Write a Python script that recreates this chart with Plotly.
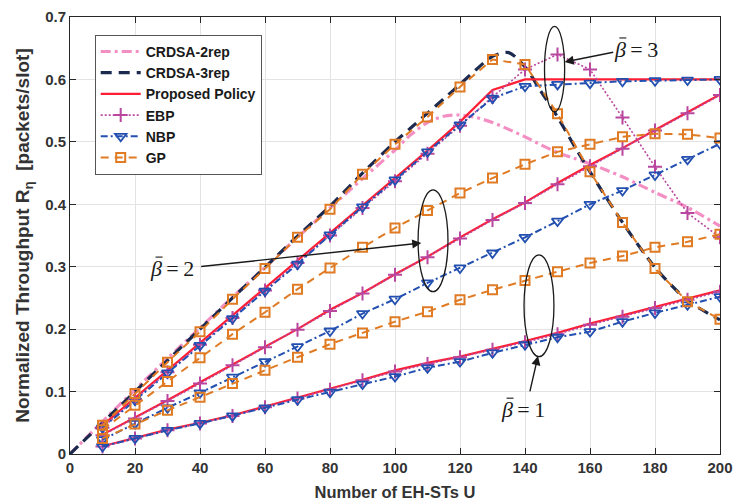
import plotly.graph_objects as go

# Number of EH-STs (marker positions) and the smooth CRDSA sample grid
users = [10, 20, 30, 40, 50, 60, 70, 80, 90, 100, 110, 120, 130, 140, 150, 160, 170, 180, 190, 200]
users_crdsa = [0, 10, 20, 30, 40, 50, 60, 70, 80, 90, 100, 105, 110, 115, 120, 125, 130, 135, 140, 145,
               150, 155, 160, 170, 180, 190, 200]

crdsa_2rep = [0.0, 0.052, 0.103, 0.153, 0.202, 0.251, 0.299, 0.347, 0.394, 0.441, 0.487, 0.512, 0.531, 0.541,
              0.543, 0.539, 0.531, 0.520, 0.508, 0.495, 0.483, 0.474, 0.465, 0.444, 0.419, 0.395, 0.365]
crdsa_3rep = [0.0, 0.050, 0.100, 0.150, 0.200, 0.250, 0.299, 0.349, 0.397, 0.450, 0.500, 0.523, 0.546, 0.569,
              0.592, 0.616, 0.637, 0.643, 0.620, 0.580, 0.540, 0.495, 0.452, 0.371, 0.299, 0.246, 0.215]

# Throughput per policy for beta = 1, 2, 3
proposed = {
    1: [0.0125, 0.026, 0.039, 0.050, 0.062, 0.076, 0.090, 0.104, 0.119, 0.134, 0.146, 0.156, 0.168, 0.181,
        0.194, 0.209, 0.222, 0.236, 0.249, 0.262],
    2: [0.031, 0.058, 0.086, 0.115, 0.143, 0.172, 0.200, 0.231, 0.258, 0.288, 0.316, 0.347, 0.376, 0.403,
        0.434, 0.463, 0.490, 0.519, 0.547, 0.576],
    3: [0.046, 0.090, 0.134, 0.178, 0.221, 0.265, 0.309, 0.354, 0.398, 0.441, 0.486, 0.532, 0.583, 0.600,
        0.600, 0.600, 0.600, 0.600, 0.600, 0.600],
}
ebp = {
    1: [0.012, 0.025, 0.038, 0.049, 0.061, 0.075, 0.089, 0.103, 0.118, 0.132, 0.144, 0.155, 0.167, 0.179,
        0.192, 0.207, 0.220, 0.234, 0.247, 0.260],
    2: [0.030, 0.057, 0.085, 0.113, 0.142, 0.171, 0.199, 0.229, 0.257, 0.287, 0.315, 0.345, 0.375, 0.402,
        0.432, 0.461, 0.489, 0.518, 0.546, 0.575],
    3: [0.042, 0.088, 0.131, 0.175, 0.218, 0.262, 0.306, 0.350, 0.394, 0.437, 0.481, 0.526, 0.572, 0.616,
        0.640, 0.616, 0.539, 0.460, 0.386, 0.347],
}
nbp = {
    1: [0.012, 0.025, 0.038, 0.049, 0.061, 0.074, 0.087, 0.099, 0.112, 0.124, 0.138, 0.148, 0.162, 0.175,
        0.187, 0.196, 0.212, 0.226, 0.239, 0.252],
    2: [0.023, 0.049, 0.074, 0.098, 0.123, 0.148, 0.172, 0.197, 0.225, 0.248, 0.274, 0.298, 0.322, 0.347,
        0.373, 0.400, 0.422, 0.447, 0.472, 0.497],
    3: [0.042, 0.086, 0.130, 0.174, 0.217, 0.261, 0.304, 0.351, 0.396, 0.439, 0.484, 0.527, 0.570, 0.589,
        0.592, 0.594, 0.597, 0.598, 0.599, 0.600],
}
gp = {
    1: [0.025, 0.048, 0.070, 0.091, 0.113, 0.134, 0.155, 0.176, 0.194, 0.212, 0.228, 0.247, 0.263, 0.278,
        0.292, 0.306, 0.317, 0.331, 0.340, 0.352],
    2: [0.039, 0.078, 0.116, 0.154, 0.192, 0.227, 0.264, 0.298, 0.331, 0.362, 0.390, 0.418, 0.442, 0.464,
        0.484, 0.496, 0.508, 0.513, 0.512, 0.506],
    3: [0.046, 0.097, 0.147, 0.196, 0.248, 0.297, 0.347, 0.392, 0.448, 0.496, 0.540, 0.588, 0.632, 0.624,
        0.545, 0.452, 0.371, 0.297, 0.244, 0.216],
}

x_ticks = [0, 20, 40, 60, 80, 100, 120, 140, 160, 180, 200]
y_ticks = [0, 0.1, 0.2, 0.3, 0.4, 0.5, 0.6, 0.7]
y_tick_text = ["0", "0.1", "0.2", "0.3", "0.4", "0.5", "0.6", "0.7"]

C_2REP = "#f48fc4"
C_3REP = "#1b2a4e"
C_PROP = "#ff1f35"
C_EBP = "#b9479f"
C_NBP = "#2350b0"
C_GP = "#e07b24"

fig = go.Figure()

fig.add_trace(go.Scatter(
    x=users_crdsa, y=crdsa_2rep, mode="lines", name="CRDSA-2rep", legendrank=1,
    line=dict(color=C_2REP, width=3.2, dash="10px,4px,3px,4px", shape="spline", smoothing=0.8)))
fig.add_trace(go.Scatter(
    x=users_crdsa, y=crdsa_3rep, mode="lines", name="CRDSA-3rep", legendrank=2,
    line=dict(color=C_3REP, width=3.2, dash="11px,7px", shape="spline", smoothing=0.8)))

for b in (3, 2, 1):
    first = b == 3
    fig.add_trace(go.Scatter(
        x=users, y=proposed[b], mode="lines", name="Proposed Policy", legendrank=3,
        legendgroup="prop", showlegend=first,
        line=dict(color=C_PROP, width=2.2)))
for b in (3, 2, 1):
    first = b == 3
    fig.add_trace(go.Scatter(
        x=users, y=ebp[b], mode="lines+markers", name="EBP", legendrank=4,
        legendgroup="ebp", showlegend=first,
        line=dict(color=C_EBP, width=1.6, dash="2px,2px"),
        marker=dict(symbol="cross-thin-open", size=10, line=dict(color=C_EBP, width=2))))
for b in (3, 2, 1):
    first = b == 3
    fig.add_trace(go.Scatter(
        x=users, y=nbp[b], mode="lines+markers", name="NBP", legendrank=5,
        legendgroup="nbp", showlegend=first,
        line=dict(color=C_NBP, width=2, dash="7px,3px,2px,3px"),
        marker=dict(symbol="triangle-down-open", size=10, line=dict(color=C_NBP, width=1.8))))
for b in (3, 2, 1):
    first = b == 3
    fig.add_trace(go.Scatter(
        x=users, y=gp[b], mode="lines+markers", name="GP", legendrank=6,
        legendgroup="gp", showlegend=first,
        line=dict(color=C_GP, width=2, dash="8px,6px"),
        marker=dict(symbol="square-open", size=9, line=dict(color=C_GP, width=2))))

INK = "#1a1a1a"

# Ellipses grouping the curves of each beta
ellipse_style = dict(type="circle", xref="x", yref="y", line=dict(color=INK, width=1.3),
                     fillcolor="rgba(0,0,0,0)")
fig.add_shape(x0=146.0, x1=152.2, y0=0.548, y1=0.685, **ellipse_style)
fig.add_shape(x0=107.1, x1=116.3, y0=0.260, y1=0.423, **ellipse_style)
fig.add_shape(x0=139.7, x1=148.9, y0=0.156, y1=0.319, **ellipse_style)

arrow_style = dict(xref="x", yref="y", axref="x", ayref="y", showarrow=True,
                   arrowhead=2, arrowsize=1.3, arrowwidth=1.4, arrowcolor=INK, text="")
fig.add_annotation(x=152.2, y=0.628, ax=167.6, ay=0.644, **arrow_style)
fig.add_annotation(x=108.1, y=0.338, ax=39.9, ay=0.300, **arrow_style)
fig.add_annotation(x=144.0, y=0.157, ax=141.4, ay=0.098, **arrow_style)

# beta-bar labels: italic beta with a bar drawn over it
label_font = dict(family="Liberation Serif", size=22, color=INK)
for tx, ty, num in [(174.1, 0.648, "3"), (31.4, 0.297, "2"), (139.4, 0.071, "1")]:
    fig.add_annotation(x=tx, y=ty, xref="x", yref="y",
                       text="<i>\u03b2</i>\u2009=\u2009" + num, showarrow=False,
                       font=label_font, xanchor="center", yanchor="middle")
    fig.add_shape(type="line", xref="x", yref="y", xsizemode="pixel", ysizemode="pixel",
                  xanchor=tx, yanchor=ty, x0=-16.5, x1=-9.5, y0=11.5, y1=11.5,
                  line=dict(color=INK, width=1.1))

tick_font = dict(family="Liberation Sans", size=15, color="#333333", weight="bold")
x_title_font = dict(family="Liberation Sans", size=16.5, color="#333333", weight="bold")
y_title_font = dict(family="Liberation Sans", size=19, color="#333333", weight="bold")

axis_common = dict(
    showline=True, linecolor="#262626", linewidth=1, mirror="ticks",
    ticks="inside", ticklen=6, tickwidth=1, tickcolor="#262626",
    showgrid=True, gridcolor="#e3e3e3", gridwidth=1, zeroline=False,
    tickfont=tick_font, automargin=False,
)

fig.update_xaxes(range=[0, 200], tickvals=x_ticks, **axis_common,
                 title=dict(text="Number of EH-STs U", standoff=11, font=x_title_font))
fig.update_yaxes(range=[0, 0.7], tickvals=y_ticks, ticktext=y_tick_text, **axis_common,
                 title=dict(text="Normalized Throughput R<sub>\u03b7</sub>  [packets/slot]", standoff=10,
                            font=y_title_font))

fig.update_layout(
    width=734, height=504,
    margin=dict(l=70, r=14, t=17, b=50),
    plot_bgcolor="white", paper_bgcolor="white",
    legend=dict(x=0.038, y=0.959, xanchor="left", yanchor="top",
                bgcolor="white", bordercolor="#555555", borderwidth=1,
                font=dict(family="Liberation Sans", size=14, color="#1a1a1a", weight="bold"),
                itemwidth=40, tracegroupgap=0),
)

fig.write_html("out.html")
